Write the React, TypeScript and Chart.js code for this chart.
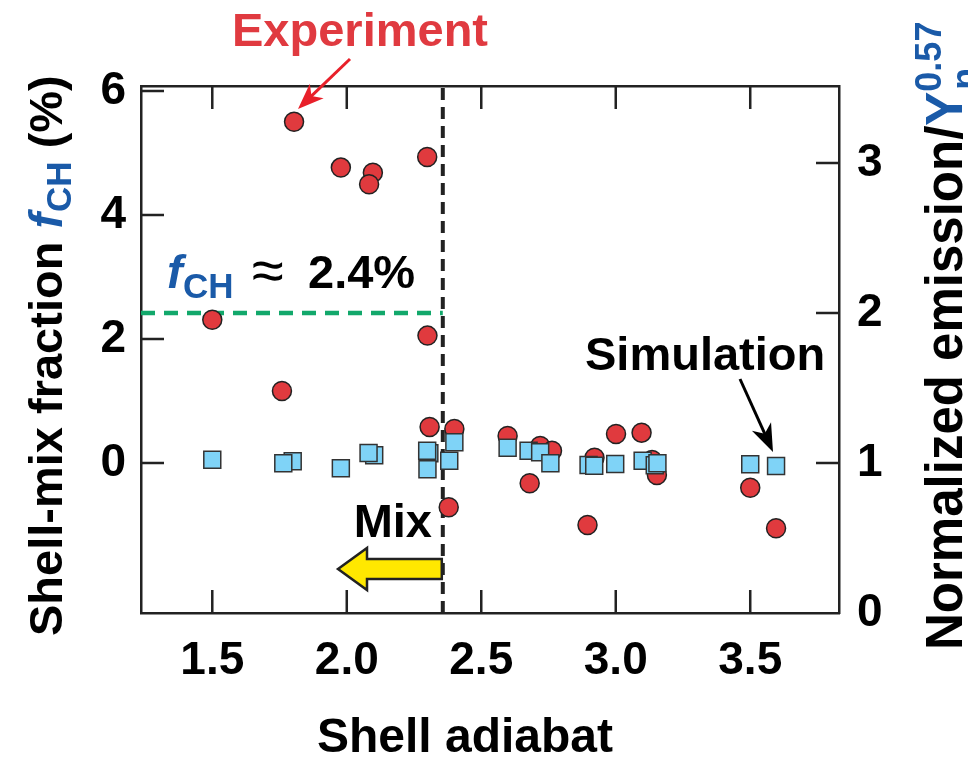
import React, { useEffect, useRef } from "react";
import { Chart, registerables } from "chart.js";
Chart.register(...registerables);

// ---- data ----
const xTicks = [1.5, 2.0, 2.5, 3.0, 3.5];
const leftTicks = [0, 2, 4, 6];
const rightTicks = [0, 1, 2, 3];

const expX = [1.804, 1.978, 2.097, 2.083, 2.299, 1.5, 2.3, 1.759, 2.308, 2.4, 2.598, 2.719, 2.763, 2.68, 2.379, 3.001, 3.096, 2.921, 3.135, 3.153, 2.895, 3.5, 3.596];
const expY = [3.275, 2.969, 2.935, 2.858, 3.04, 1.955, 1.849, 1.48, 1.24, 1.227, 1.18, 1.113, 1.082, 0.865, 0.705, 1.193, 1.202, 1.035, 1.02, 0.92, 0.587, 0.835, 0.565];

const simX = [1.5, 1.799, 1.764, 1.978, 2.102, 2.081, 2.307, 2.299, 2.3, 2.4, 2.381, 2.598, 2.676, 2.719, 2.757, 2.899, 2.92, 2.998, 3.1, 3.145, 3.155, 3.5, 3.596];
const simY = [1.022, 1.011, 0.998, 0.965, 1.051, 1.067, 1.065, 1.082, 0.958, 1.138, 1.015, 1.102, 1.082, 1.071, 0.998, 0.987, 0.982, 0.993, 1.015, 0.985, 0.998, 0.991, 0.98];

const mixThreshold = 2.357; // shell adiabat boundary
const fchLevel = 2.0; // normalized emission corresponding to f_CH ≈ 2.4%

const X_MIN = 1.235;
const X_MAX = 3.83;
const YR_MIN = 0;
const YR_MAX = 3.513;
const LEFT_PER_RIGHT = 2.42; // f_CH(%) = 2.42 * (emission - 1)
const YL_MIN = (YR_MIN - 1) * LEFT_PER_RIGHT;
const YL_MAX = (YR_MAX - 1) * LEFT_PER_RIGHT;

const FONT = "'Liberation Sans', Arial, Helvetica, sans-serif";
const BLUE = "#1a5aa8";
const AXIS = "#222";

function drawArrow(ctx: CanvasRenderingContext2D, x1: number, y1: number, x2: number, y2: number, color: string, lw: number, headLen: number, headW: number) {
  const ang = Math.atan2(y2 - y1, x2 - x1);
  const c = Math.cos(ang), s = Math.sin(ang);
  const bx = x2 - headLen * c, by = y2 - headLen * s;
  const px = -s, py = c;
  ctx.strokeStyle = color;
  ctx.lineWidth = lw;
  ctx.beginPath();
  ctx.moveTo(x1, y1);
  ctx.lineTo(x2 - headLen * 0.6 * c, y2 - headLen * 0.6 * s);
  ctx.stroke();
  ctx.fillStyle = color;
  ctx.beginPath();
  ctx.moveTo(x2, y2);
  ctx.lineTo(bx + px * headW / 2, by + py * headW / 2);
  ctx.lineTo(x2 - headLen * 0.72 * c, y2 - headLen * 0.72 * s);
  ctx.lineTo(bx - px * headW / 2, by - py * headW / 2);
  ctx.closePath();
  ctx.fill();
}

const inwardTicks = {
  id: "inwardTicks",
  afterDatasetsDraw(chart: any) {
    const ctx = chart.ctx as CanvasRenderingContext2D;
    const { left, right, top, bottom } = chart.chartArea;
    const L = 23;
    ctx.save();
    ctx.strokeStyle = AXIS;
    ctx.lineWidth = 2.5;
    ctx.beginPath();
    for (const t of chart.scales.x.ticks) {
      const px = chart.scales.x.getPixelForValue(t.value);
      ctx.moveTo(px, bottom); ctx.lineTo(px, bottom - L);
    }
    for (const t of chart.scales.x2.ticks) {
      const px = chart.scales.x2.getPixelForValue(t.value);
      ctx.moveTo(px, top); ctx.lineTo(px, top + L);
    }
    for (const t of chart.scales.yL.ticks) {
      const py = chart.scales.yL.getPixelForValue(t.value);
      ctx.moveTo(left, py); ctx.lineTo(left + L, py);
    }
    for (const t of chart.scales.y.ticks) {
      if (t.value === 0) continue;
      const py = chart.scales.y.getPixelForValue(t.value);
      ctx.moveTo(right, py); ctx.lineTo(right - L, py);
    }
    ctx.stroke();
    ctx.restore();
  },
};

const annotations = {
  id: "annotations",
  afterDraw(chart: any) {
    const ctx = chart.ctx as CanvasRenderingContext2D;
    const xs = chart.scales.x;
    ctx.save();
    ctx.textBaseline = "alphabetic";

    // Experiment label + arrow
    ctx.font = `bold 47px ${FONT}`;
    ctx.fillStyle = "#e03a40";
    ctx.textAlign = "center";
    ctx.fillText("Experiment", 360, 46);
    drawArrow(ctx, 350, 59, 298, 109, "#e8202a", 3, 26, 20);

    // Simulation label + arrow
    ctx.fillStyle = "#000";
    ctx.textAlign = "left";
    ctx.fillText("Simulation", 585, 370);
    drawArrow(ctx, 740, 379, 773, 452, "#000", 3, 28, 21);

    // Mix label + yellow arrow
    ctx.textAlign = "right";
    ctx.fillText("Mix", 432, 537);
    const tailX = xs.getPixelForValue(mixThreshold) - 1;
    const cy = 569;
    const tipX = 338, headX = 367;
    ctx.beginPath();
    ctx.moveTo(tipX, cy);
    ctx.lineTo(headX, cy - 21);
    ctx.lineTo(headX, cy - 10);
    ctx.lineTo(tailX, cy - 10);
    ctx.lineTo(tailX, cy + 10);
    ctx.lineTo(headX, cy + 10);
    ctx.lineTo(headX, cy + 21);
    ctx.closePath();
    ctx.fillStyle = "#ffe800";
    ctx.fill();
    ctx.strokeStyle = "#222";
    ctx.lineWidth = 2.5;
    ctx.lineJoin = "miter";
    ctx.stroke();

    // f_CH ≈ 2.4%
    ctx.textAlign = "left";
    ctx.fillStyle = BLUE;
    ctx.font = `italic bold 47px ${FONT}`;
    ctx.fillText("f", 167, 288);
    ctx.font = `bold 35px ${FONT}`;
    ctx.fillText("CH", 183, 298);
    ctx.fillStyle = "#000";
    ctx.font = `58px ${FONT}`;
    ctx.fillText("≈", 252, 290);
    ctx.font = `bold 47px ${FONT}`;
    ctx.fillText("2.4%", 308, 288);

    // Bottom axis title
    ctx.textAlign = "center";
    ctx.font = `bold 48px ${FONT}`;
    ctx.fillStyle = "#000";
    ctx.fillText("Shell adiabat", (chart.chartArea.left + chart.chartArea.right) / 2 - 25, 752);
    ctx.textAlign = "left";

    // Left axis title
    ctx.save();
    ctx.translate(62, 636);
    ctx.rotate(-Math.PI / 2);
    let x = 0;
    ctx.font = `bold 47px ${FONT}`;
    ctx.fillStyle = "#000";
    ctx.fillText("Shell-mix fraction ", x, 0);
    x += ctx.measureText("Shell-mix fraction ").width;
    ctx.font = `italic bold 47px ${FONT}`;
    ctx.fillStyle = BLUE;
    ctx.fillText("f", x, 0);
    x += ctx.measureText("f").width + 1;
    ctx.font = `bold 35px ${FONT}`;
    ctx.fillText("CH", x, 9);
    x += ctx.measureText("CH").width;
    ctx.font = `bold 47px ${FONT}`;
    ctx.fillStyle = "#000";
    ctx.fillText(" (%)", x, 0);
    ctx.restore();

    // Right axis title
    ctx.save();
    ctx.translate(962, 650);
    ctx.rotate(-Math.PI / 2);
    x = 0;
    ctx.font = `bold 51px ${FONT}`;
    ctx.fillStyle = "#000";
    ctx.fillText("Normalized emission/", x, 0);
    x += ctx.measureText("Normalized emission/").width;
    ctx.fillStyle = BLUE;
    ctx.fillText("Y", x, 0);
    x += ctx.measureText("Y").width;
    ctx.font = `bold 36px ${FONT}`;
    ctx.fillText("0.57", x, -21);
    ctx.fillText("n", x + 2, 15);
    ctx.restore();

    ctx.restore();
  },
};

export default function App() {
  const ref = useRef<HTMLCanvasElement | null>(null);
  useEffect(() => {
    if (!ref.current) return;
    const tickFont = { family: FONT, size: 46, weight: "bold" as const };
    const chart = new Chart(ref.current, {
      type: "scatter",
      data: {
        datasets: [
          {
            label: "Simulation",
            data: simX.map((v, i) => ({ x: v, y: simY[i] })),
            xAxisID: "x",
            yAxisID: "y",
            pointStyle: "rect",
            pointRadius: 12,
            pointHoverRadius: 12,
            backgroundColor: "#7fd3f7",
            borderColor: "#333",
            borderWidth: 1.5,
            order: 0,
          },
          {
            label: "Experiment",
            data: expX.map((v, i) => ({ x: v, y: expY[i] })),
            xAxisID: "x",
            yAxisID: "y",
            pointStyle: "circle",
            pointRadius: 9.5,
            pointHoverRadius: 9.5,
            backgroundColor: "#e03a3e",
            borderColor: "#222",
            borderWidth: 1.5,
            order: 1,
          },
          {
            label: "threshold",
            data: [
              { x: mixThreshold, y: YR_MIN },
              { x: mixThreshold, y: YR_MAX },
            ],
            xAxisID: "x",
            yAxisID: "y",
            showLine: true,
            pointRadius: 0,
            borderColor: "#222",
            borderWidth: 4,
            borderDash: [12, 7],
            order: 3,
          },
          {
            label: "fch",
            data: [
              { x: X_MIN, y: fchLevel },
              { x: mixThreshold, y: fchLevel },
            ],
            xAxisID: "x",
            yAxisID: "y",
            showLine: true,
            pointRadius: 0,
            borderColor: "#12a86b",
            borderWidth: 4.5,
            borderDash: [14, 9],
            order: 2,
          },
        ],
      },
      options: {
        responsive: false,
        animation: false,
        events: [],
        layout: { padding: 0 },
        plugins: { legend: { display: false }, tooltip: { enabled: false } },
        scales: {
          x: {
            type: "linear",
            position: "bottom",
            min: X_MIN,
            max: X_MAX,
            afterBuildTicks: (s: any) => { s.ticks = xTicks.map((v) => ({ value: v })); },
            afterFit: (s: any) => { s.height = 147; },
            grid: { display: false, drawTicks: false },
            border: { display: true, color: AXIS, width: 2.5 },
            ticks: { font: tickFont, color: "#000", padding: 21, maxRotation: 0, callback: (v: any) => Number(v).toFixed(1) },
          },
          x2: {
            type: "linear",
            position: "top",
            min: X_MIN,
            max: X_MAX,
            afterBuildTicks: (s: any) => { s.ticks = xTicks.map((v) => ({ value: v })); },
            afterFit: (s: any) => { s.height = 86; },
            grid: { display: false, drawTicks: false },
            border: { display: true, color: AXIS, width: 2.5 },
            ticks: { display: false },
          },
          yL: {
            type: "linear",
            position: "left",
            min: YL_MIN,
            max: YL_MAX,
            afterBuildTicks: (s: any) => { s.ticks = leftTicks.map((v) => ({ value: v })); },
            afterFit: (s: any) => { s.width = 141; },
            grid: { display: false, drawTicks: false },
            border: { display: true, color: AXIS, width: 2.5 },
            ticks: { font: tickFont, color: "#000", padding: 15, callback: (v: any) => String(v) },
          },
          y: {
            type: "linear",
            position: "right",
            min: YR_MIN,
            max: YR_MAX,
            afterBuildTicks: (s: any) => { s.ticks = rightTicks.map((v) => ({ value: v })); },
            afterFit: (s: any) => { s.width = 129; },
            grid: { display: false, drawTicks: false },
            border: { display: true, color: AXIS, width: 2.5 },
            ticks: { font: tickFont, color: "#000", padding: 18, callback: (v: any) => String(v) },
          },
        },
      },
      plugins: [inwardTicks, annotations],
    });
    return () => chart.destroy();
  }, []);
  return (
    <div style={{ position: "absolute", left: 0, top: 0, width: 968, height: 760, background: "#fff" }}>
      <canvas ref={ref} width={968} height={760} style={{ display: "block", width: 968, height: 760 }} />
    </div>
  );
}
